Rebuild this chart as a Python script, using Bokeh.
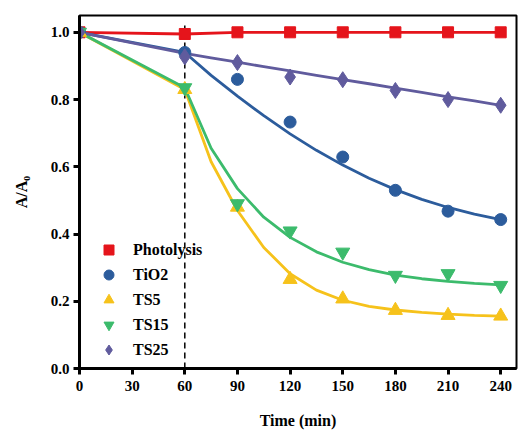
from bokeh.plotting import figure
from bokeh.models import Range1d, Legend, LegendItem, FixedTicker, CustomJSTickFormatter
from bokeh.embed import file_html
from bokeh.resources import INLINE

time = [0, 60, 90, 120, 150, 180, 210, 240]
photolysis = [1.0, 0.995, 1.0, 1.0, 1.0, 1.0, 1.0, 1.0]
tio2 = [1.0, 0.94, 0.86, 0.733, 0.629, 0.53, 0.468, 0.443]
ts5 = [1.0, 0.83, 0.48, 0.265, 0.207, 0.173, 0.158, 0.156]
ts15 = [1.0, 0.835, 0.49, 0.409, 0.346, 0.277, 0.282, 0.247]
ts25 = [1.0, 0.927, 0.91, 0.867, 0.859, 0.827, 0.80, 0.783]

# ---- fitted curves ----
fit_time = [0, 60, 75, 90, 105, 120, 135, 150, 165, 180, 195, 210, 225, 240]
tio2_fit = [1.0, 0.94, 0.872, 0.81, 0.752, 0.698, 0.649, 0.605, 0.566, 0.532, 0.503, 0.479, 0.459, 0.443]
ts5_fit = [1.0, 0.83, 0.615, 0.47, 0.36, 0.282, 0.233, 0.203, 0.185, 0.174, 0.167, 0.162, 0.158, 0.156]
ts15_fit = [1.0, 0.835, 0.655, 0.535, 0.45, 0.39, 0.347, 0.316, 0.294, 0.278, 0.267, 0.259, 0.253, 0.249]
ts25_fit = [1.0, 0.937, 0.924, 0.911, 0.898, 0.885, 0.872, 0.859, 0.847, 0.834, 0.821, 0.808, 0.796, 0.783]

x_ticks = [0, 30, 60, 90, 120, 150, 180, 210, 240]
y_ticks = [0.0, 0.2, 0.4, 0.6, 0.8, 1.0]
light_on = 60

FONT = "Times New Roman"

p = figure(width=518, height=432, output_backend="svg", toolbar_location=None,
           x_range=Range1d(0, 249), y_range=Range1d(0, 1.05),
           min_border_left=79, min_border_right=2, min_border_top=15, min_border_bottom=64)
p.grid.visible = False
p.outline_line_color = "black"
p.outline_line_width = 2

p.axis.axis_line_width = 3
p.axis.major_tick_line_width = 3
p.axis.major_tick_out = 6
p.axis.major_tick_in = 0
p.axis.minor_tick_line_color = None
p.axis.major_label_text_font = FONT
p.axis.major_label_text_font_style = "bold"
p.axis.major_label_text_font_size = "15px"
p.axis.major_label_text_color = "black"
p.axis.axis_label_text_font = FONT
p.axis.axis_label_text_font_style = "bold"
p.axis.axis_label_text_font_size = "16px"
p.axis.axis_label_text_color = "black"

p.xaxis.ticker = FixedTicker(ticks=x_ticks)
p.yaxis.ticker = FixedTicker(ticks=y_ticks)
p.yaxis.formatter = CustomJSTickFormatter(code="return tick.toFixed(1);")
p.xaxis.axis_label = "Time (min)"
p.yaxis.axis_label = "A/A\u2080"
p.xaxis.major_label_standoff = 6
p.yaxis.major_label_standoff = 4
p.xaxis.axis_label_standoff = 18
p.yaxis.axis_label_standoff = 18

# dashed line marking light on
p.segment(x0=[light_on], y0=[0], x1=[light_on], y1=[1.02], line_color="black",
          line_width=1.5, line_dash="6 4")

colors = {
    "Photolysis": "#E5141B",
    "TiO2": "#2C5C9C",
    "TS5": "#F6C21B",
    "TS15": "#3CBB6C",
    "TS25": "#605B9D",
}
LW = 2.8

p.line(time, photolysis, line_color=colors["Photolysis"], line_width=LW)
p.line(fit_time, tio2_fit, line_color=colors["TiO2"], line_width=LW)
p.line(fit_time, ts5_fit, line_color=colors["TS5"], line_width=LW)
p.line(fit_time, ts15_fit, line_color=colors["TS15"], line_width=LW)
p.line(fit_time, ts25_fit, line_color=colors["TS25"], line_width=LW)

r_ph = p.scatter(time, photolysis, marker="square", size=11, color=colors["Photolysis"])
r_ti = p.scatter(time, tio2, marker="circle", size=12, color=colors["TiO2"])
r_t5 = p.scatter(time, ts5, marker="triangle", size=14, color=colors["TS5"])
r_t15 = p.scatter(time, ts15, marker="inverted_triangle", size=14, color=colors["TS15"])
r_t25 = p.scatter(time, ts25, marker="diamond", size=16, color=colors["TS25"])

legend = Legend(items=[
    LegendItem(label="Photolysis", renderers=[r_ph]),
    LegendItem(label="TiO2", renderers=[r_ti]),
    LegendItem(label="TS5", renderers=[r_t5]),
    LegendItem(label="TS15", renderers=[r_t15]),
    LegendItem(label="TS25", renderers=[r_t25]),
], location=(17, 6))
legend.border_line_color = None
legend.background_fill_alpha = 0
legend.padding = 0
legend.margin = 0
legend.spacing = 0
legend.label_height = 25
legend.glyph_height = 25
legend.glyph_width = 25
legend.label_standoff = 12
legend.label_text_font = FONT
legend.label_text_font_style = "bold"
legend.label_text_font_size = "16px"
legend.label_text_color = "black"
p.add_layout(legend)

open("out.html", "w").write(file_html(p, INLINE))
